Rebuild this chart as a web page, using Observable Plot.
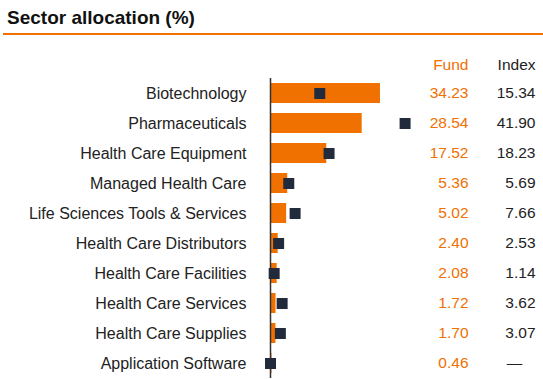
<!DOCTYPE html>
<html><head><meta charset="utf-8">
<script src="https://cdn.jsdelivr.net/npm/d3@7"></script>
<script src="https://cdn.jsdelivr.net/npm/@observablehq/plot@0.6"></script>
<style>
body{margin:0;background:#fff;font-family:"Liberation Sans",Arial,sans-serif;}
#title{position:relative;height:40px;width:543px;}
#title h1{position:absolute;left:7px;top:7px;margin:0;font-size:19px;font-weight:bold;color:#111;line-height:22px;white-space:nowrap;}
#title .rule{position:absolute;left:3px;right:0;top:33px;height:2px;background:#f07000;}
</style></head><body>
<div id="title"><h1>Sector allocation (%)</h1><div class="rule"></div></div>
<div id="chart"></div>
<script>
const sectors = ["Biotechnology","Pharmaceuticals","Health Care Equipment","Managed Health Care","Life Sciences Tools & Services","Health Care Distributors","Health Care Facilities","Health Care Services","Health Care Supplies","Application Software"];
const fund = [34.23, 28.54, 17.52, 5.36, 5.02, 2.40, 2.08, 1.72, 1.70, 0.46];
const index = [15.34, 41.90, 18.23, 5.69, 7.66, 2.53, 1.14, 3.62, 3.07, null];
const headers = ["Fund", "Index"];

const orange = "#f07000";
const dark = "#222b3b";
const data = sectors.map((s, i) => ({sector: s, fund: fund[i], index: index[i]}));

const chart = Plot.plot({
  width: 543, height: 339,
  marginLeft: 270, marginRight: 8, marginTop: 38, marginBottom: 1,
  style: {fontFamily: "'Liberation Sans', Arial, sans-serif", fontSize: "15.5px", background: "#fff"},
  x: {domain: [0, 82.5], axis: null},
  y: {domain: sectors, axis: null, padding: 0},
  marks: [
    Plot.barX(data, {y: "sector", x: "fund", fill: orange, insetTop: 5, insetBottom: 5}),
    Plot.ruleX([0], {stroke: "#333", strokeWidth: 1.5}),
    Plot.dot(data, {y: "sector", x: d => d.index ?? 0, symbol: "square", r: 6.2, fill: dark}),
    Plot.axisY({anchor: "left", tickSize: 0, tickPadding: 24, fill: "#222", label: null, fontSize: 16}),
    Plot.text(data, {y: "sector", text: d => d.fund.toFixed(2), frameAnchor: "right", textAnchor: "end", dx: -67, fill: orange, fontSize: 15.5}),
    Plot.text(data.filter(d => d.index != null), {y: "sector", text: d => d.index.toFixed(2), frameAnchor: "right", textAnchor: "end", fill: "#222", fontSize: 15.5}),
    Plot.text(data.filter(d => d.index == null), {y: "sector", text: () => "—", frameAnchor: "right", textAnchor: "middle", dx: -21, fill: "#222", fontSize: 15.5}),
    Plot.text([headers[0]], {text: d => d, frameAnchor: "top-right", textAnchor: "end", lineAnchor: "middle", dx: -67, dy: -13, fill: orange, fontSize: 15.5}),
    Plot.text([headers[1]], {text: d => d, frameAnchor: "top-right", textAnchor: "end", lineAnchor: "middle", dy: -13, fill: "#222", fontSize: 15.5})
  ]
});
document.getElementById("chart").appendChild(chart);
</script>
</body></html>
